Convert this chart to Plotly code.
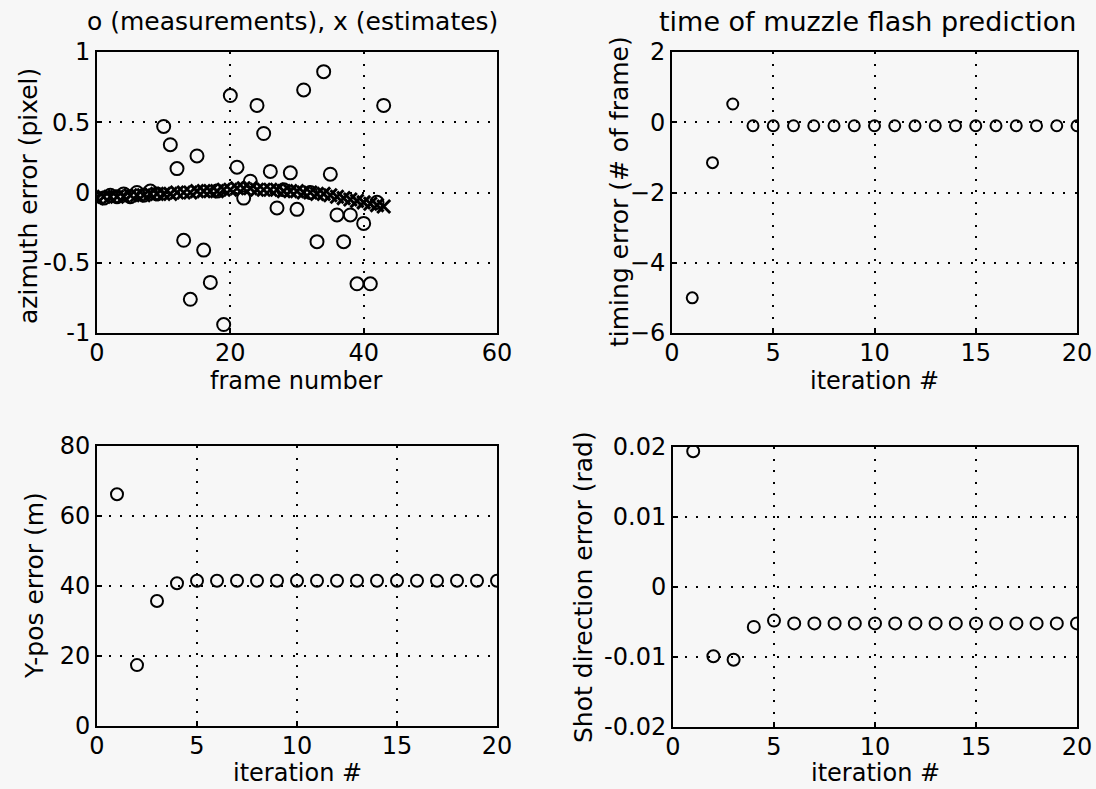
import plotly.graph_objects as go

W, H = 1096, 789

# ---------------- data ----------------
frames_meas = list(range(1, 44))
azimuth_meas = [-0.04, -0.02, -0.03, -0.01, -0.03, 0.0, -0.02, 0.01, -0.01,
                0.47, 0.34, 0.17, -0.34, -0.76, 0.26, -0.41, -0.64, 0.01, -0.94,
                0.69, 0.18, -0.04, 0.08, 0.62, 0.42, 0.15, -0.11, 0.02, 0.14,
                -0.12, 0.73, 0.0, -0.35, 0.86, 0.13, -0.16, -0.35, -0.16, -0.65,
                -0.22, -0.65, -0.07, 0.62]
frames_est = list(range(0, 44))
azimuth_est = [-0.04, -0.03, -0.03, -0.03, -0.03, -0.02, -0.02, -0.02, -0.01, -0.01,
               -0.01, -0.01, 0.0, 0.0, 0.0, 0.01, 0.01, 0.01, 0.01, 0.02,
               0.02, 0.03, 0.03, 0.03, 0.02, 0.02, 0.02, 0.02, 0.01, 0.01,
               0.01, 0.0, 0.0, -0.01, -0.01, -0.02, -0.03, -0.04, -0.05, -0.06,
               -0.07, -0.08, -0.09, -0.1]

iterations = list(range(1, 21))
timing_err = [-5.0, -1.15, 0.52] + [-0.1] * 17
ypos_err = [66.2, 17.4, 35.7, 40.8] + [41.5] * 16
shot_err = [0.0194, -0.0099, -0.0104, -0.0057, -0.0048] + [-0.0052] * 15

x_ticks_frame = [0, 20, 40, 60]
y_ticks_az = [-1, -0.5, 0, 0.5, 1]
y_ticks_az_text = ["-1", "-0.5", "0", "0.5", "1"]
x_ticks_iter = [0, 5, 10, 15, 20]
y_ticks_timing = [-6, -4, -2, 0, 2]
y_ticks_ypos = [0, 20, 40, 60, 80]
y_ticks_shot = [-0.02, -0.01, 0, 0.01, 0.02]
y_ticks_shot_text = ["-0.02", "-0.01", "0", "0.01", "0.02"]

FONT = "DejaVu Sans"
BG = "#f7f7f7"

def px_x(p):
    return p / W

def px_y(p):
    return 1 - p / H

fig = go.Figure()

circle = dict(symbol="circle-open", color="black", line=dict(color="black", width=2))

fig.add_trace(go.Scatter(x=frames_meas, y=azimuth_meas, mode="markers",
                         marker=dict(size=13, **circle), xaxis="x", yaxis="y"))
fig.add_trace(go.Scatter(x=frames_est, y=azimuth_est, mode="markers",
                         marker=dict(symbol="x-thin", size=13, color="black",
                                     line=dict(color="black", width=3)),
                         xaxis="x", yaxis="y"))
fig.add_trace(go.Scatter(x=iterations, y=timing_err, mode="markers",
                         marker=dict(size=11, **circle), xaxis="x2", yaxis="y2"))
fig.add_trace(go.Scatter(x=iterations, y=ypos_err, mode="markers",
                         marker=dict(size=12, **circle), xaxis="x3", yaxis="y3"))
fig.add_trace(go.Scatter(x=iterations, y=shot_err, mode="markers",
                         marker=dict(size=12, **circle), xaxis="x4", yaxis="y4"))

axis_common = dict(
    showline=True, mirror=True, linecolor="black", linewidth=2,
    ticks="inside", ticklen=5, tickcolor="black", tickwidth=1.5,
    showgrid=True, gridcolor="black", gridwidth=2, griddash="2px,9.5px",
    zeroline=False, tickfont=dict(family=FONT, size=24, color="black"),
    fixedrange=True, automargin=False,
)
x_extra = dict(ticklabelstandoff=-3)

# domains (pixels)
dom = {
    1: ((97, 497), (52, 333)),
    2: ((672, 1077), (52, 333)),
    3: ((97, 497), (446, 726)),
    4: ((673, 1077), (447, 727)),
}

def xd(i):
    a, b = dom[i][0]
    return [px_x(a), px_x(b)]

def yd(i):
    a, b = dom[i][1]
    return [px_y(b), px_y(a)]

fig.update_layout(
    width=W, height=H, margin=dict(l=0, r=0, t=0, b=0, pad=0, autoexpand=False),
    paper_bgcolor=BG, plot_bgcolor=BG, showlegend=False,
    xaxis=dict(domain=xd(1), range=[0, 60], tickvals=x_ticks_frame, anchor="y", **axis_common, **x_extra),
    yaxis=dict(domain=yd(1), range=[-1, 1], tickvals=y_ticks_az, ticktext=y_ticks_az_text, anchor="x", **axis_common),
    xaxis2=dict(domain=xd(2), range=[0, 20], tickvals=x_ticks_iter, anchor="y2", **axis_common, **x_extra),
    yaxis2=dict(domain=yd(2), range=[-6, 2], tickvals=y_ticks_timing, anchor="x2", **axis_common),
    xaxis3=dict(domain=xd(3), range=[0, 20], tickvals=x_ticks_iter, anchor="y3", **axis_common, **x_extra),
    yaxis3=dict(domain=yd(3), range=[0, 80], tickvals=y_ticks_ypos, anchor="x3", **axis_common),
    xaxis4=dict(domain=xd(4), range=[0, 20], tickvals=x_ticks_iter, anchor="y4", **axis_common, **x_extra),
    yaxis4=dict(domain=yd(4), range=[-0.02, 0.02], tickvals=y_ticks_shot, ticktext=y_ticks_shot_text, anchor="x4", **axis_common),
)

def ann(text, x, y, size=25, angle=0):
    fig.add_annotation(text=text, x=px_x(x), y=px_y(y), xref="paper", yref="paper",
                       showarrow=False, xanchor="center", yanchor="middle",
                       textangle=angle, font=dict(family=FONT, size=size, color="black"))

ann("o (measurements), x (estimates)", 292, 21)
ann("time of muzzle flash prediction", 867, 21, size=27)
ann("frame number", 296, 381, size=24)
ann("iteration #", 874, 381, size=24)
ann("iteration #", 297, 773, size=24)
ann("iteration #", 875, 773, size=24)
ann("azimuth error (pixel)", 28, 196, angle=-90)
ann("timing error (# of frame)", 620, 192, angle=-90)
ann("Y-pos error (m)", 34, 586, angle=-90)
ann("Shot direction error (rad)", 583, 587, angle=-90)

fig.write_html("out.html")
